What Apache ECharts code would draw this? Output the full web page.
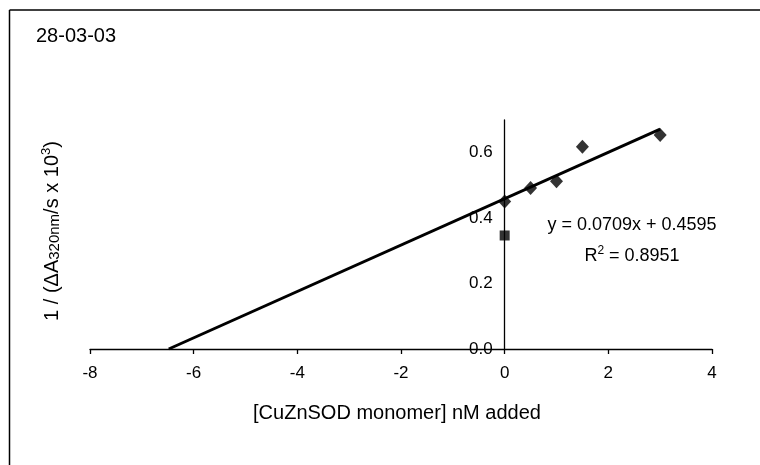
<!DOCTYPE html>
<html>
<head>
<meta charset="utf-8">
<script src="https://cdn.jsdelivr.net/npm/echarts@6/dist/echarts.min.js"></script>
<style>
  html, body { margin: 0; padding: 0; background: #fff; }
  #chart { width: 760px; height: 465px; }
</style>
</head>
<body>
<div id="chart"></div>
<script>
// Measured rates: CuZnSOD added (nM) vs 1/(ΔA320nm/s x 10^3)
const sodAdded = [0, 0.5, 1, 1.5, 3];
const invRate = [0.451, 0.492, 0.513, 0.618, 0.654];
// Separate control point at 0 nM
const controlX = [0];
const controlY = [0.347];
// Linear fit reported on the chart
const fitSlope = 0.0709;
const fitIntercept = 0.4595;
const fitR2 = 0.8951;
const fitXMax = 3;
// Axis tick settings
const xTicks = { min: -8, max: 4, interval: 2 };
const yTicks = { min: 0, max: 0.7, interval: 0.2 };

const FONT = '"Liberation Sans", Arial, sans-serif';
const W = 760, H = 465;
const GRID = { left: 90, right: 48, top: 120, bottom: 116 };

// Trendline runs from its x-intercept up to the last measured concentration
const fitX0 = -fitIntercept / fitSlope;
const fitLine = [
  [fitX0, fitSlope * fitX0 + fitIntercept],
  [fitXMax, fitSlope * fitXMax + fitIntercept]
];

// The value axis crosses the category axis at x = 0: shift it inward from the grid's left edge
const gridWidth = W - GRID.left - GRID.right;
const yAxisShift = -(0 - xTicks.min) / (xTicks.max - xTicks.min) * gridWidth;

const chart = echarts.init(document.getElementById('chart'), null, { renderer: 'canvas' });

chart.setOption({
  animation: false,
  backgroundColor: '#fff',
  grid: Object.assign({ containLabel: false }, GRID),
  xAxis: {
    type: 'value',
    min: xTicks.min, max: xTicks.max, interval: xTicks.interval,
    splitLine: { show: false },
    axisLine: { onZero: false, lineStyle: { color: '#000', width: 1.3 } },
    axisTick: { show: true, inside: false, length: 5, lineStyle: { color: '#000', width: 1.3 } },
    axisLabel: { color: '#000', fontFamily: FONT, fontSize: 17, margin: 16 }
  },
  yAxis: {
    type: 'value',
    position: 'left',
    offset: yAxisShift,
    min: yTicks.min, max: yTicks.max, interval: yTicks.interval,
    splitLine: { show: false },
    axisLine: { show: true, onZero: false, lineStyle: { color: '#000', width: 1.3 } },
    axisTick: { show: false },
    axisLabel: {
      color: '#000', fontFamily: FONT, fontSize: 17, margin: 12,
      showMaxLabel: false,
      formatter: v => v.toFixed(1)
    }
  },
  series: [
    {
      type: 'line',
      data: fitLine,
      showSymbol: false,
      symbol: 'none',
      lineStyle: { color: '#000', width: 3 },
      z: 2
    },
    {
      type: 'scatter',
      data: sodAdded.map((x, i) => [x, invRate[i]]),
      symbol: 'diamond',
      symbolSize: [13, 14],
      itemStyle: { color: '#000' },
      z: 3
    },
    {
      type: 'scatter',
      data: controlX.map((x, i) => [x, controlY[i]]),
      symbol: 'rect',
      symbolSize: 10,
      itemStyle: { color: '#000' },
      z: 3
    }
  ],
  graphic: [
    // frame (top and left edges)
    { type: 'line', shape: { x1: 9.5, y1: 10, x2: 760, y2: 10 }, style: { stroke: '#000', lineWidth: 1.5 } },
    { type: 'line', shape: { x1: 9.5, y1: 10, x2: 9.5, y2: 465 }, style: { stroke: '#000', lineWidth: 1.5 } },
    {
      type: 'text', left: 36, top: 26,
      style: { text: '28-03-03', fill: '#000', font: '20px ' + FONT }
    },
    {
      type: 'text', x: 397, y: 413,
      style: { text: '[CuZnSOD monomer] nM added', fill: '#000', font: '20px ' + FONT, textAlign: 'center', textVerticalAlign: 'middle' }
    },
    {
      type: 'text', x: 52, y: 231, rotation: Math.PI / 2,
      style: {
        text: '{m|1 / (ΔA}{s|320nm}{m|/s x 10}{p|3}{m|)}',
        textAlign: 'center', textVerticalAlign: 'middle',
        rich: {
          m: { fontFamily: FONT, fontSize: 20, fill: '#000', lineHeight: 26, verticalAlign: 'middle' },
          s: { fontFamily: FONT, fontSize: 15, fill: '#000', lineHeight: 26, verticalAlign: 'bottom', padding: [0, 0, 3, 0] },
          p: { fontFamily: FONT, fontSize: 13, fill: '#000', lineHeight: 26, verticalAlign: 'top', padding: [1, 0, 0, 0] }
        }
      }
    },
    {
      type: 'text', x: 632, y: 225,
      style: {
        text: 'y = ' + fitSlope.toFixed(4) + 'x + ' + fitIntercept.toFixed(4),
        fill: '#000', font: '18px ' + FONT, textAlign: 'center', textVerticalAlign: 'middle'
      }
    },
    {
      type: 'text', x: 632, y: 256,
      style: {
        text: '{m|R}{p|2}{m| = ' + fitR2.toFixed(4) + '}',
        textAlign: 'center', textVerticalAlign: 'middle',
        rich: {
          m: { fontFamily: FONT, fontSize: 18, fill: '#000', lineHeight: 22, verticalAlign: 'middle' },
          p: { fontFamily: FONT, fontSize: 12, fill: '#000', lineHeight: 22, verticalAlign: 'top' }
        }
      }
    }
  ]
});
</script>
</body>
</html>
